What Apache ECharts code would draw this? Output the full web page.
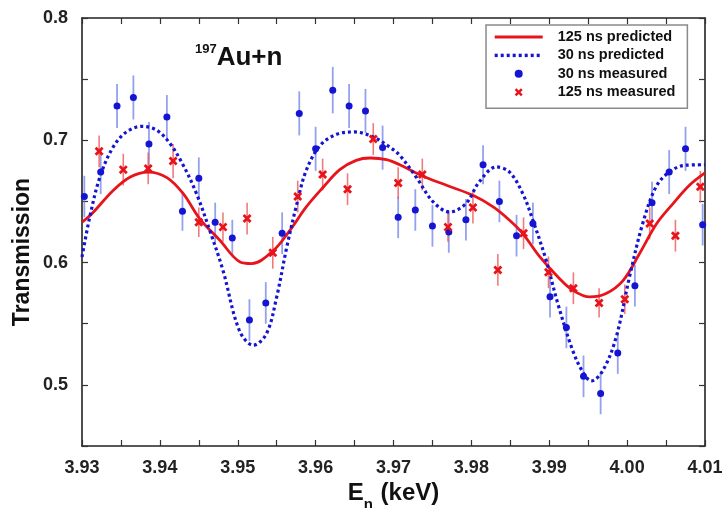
<!DOCTYPE html>
<html>
<head>
<meta charset="utf-8">
<script src="https://cdn.jsdelivr.net/npm/echarts@6/dist/echarts.min.js"></script>
<style>
  html, body { margin: 0; padding: 0; background: #fff; }
  #chart { width: 722px; height: 508px; }
</style>
</head>
<body>
<div id="chart"></div>
<script>
// Neutron transmission of 197Au near 3.93-4.01 keV

// Predicted transmission, 125 ns resolution: [E (keV), T]
const pred125 = [
  [3.9300, 0.633], [3.9312, 0.6395], [3.9340, 0.659], [3.9362, 0.670], [3.9385, 0.674],
  [3.9409, 0.6695], [3.9430, 0.6564], [3.9451, 0.636], [3.9477, 0.6182], [3.9503, 0.6005],
  [3.9518, 0.5992], [3.9546, 0.610], [3.9567, 0.6264], [3.9588, 0.6455], [3.9610, 0.6618],
  [3.9631, 0.676], [3.9652, 0.6836], [3.9670, 0.6855], [3.9691, 0.6842], [3.9708, 0.680],
  [3.9738, 0.6706], [3.9768, 0.6632], [3.9802, 0.655], [3.9828, 0.6455], [3.9849, 0.6346],
  [3.9866, 0.6237], [3.9888, 0.6046], [3.9913, 0.587], [3.9930, 0.5774], [3.9952, 0.5719],
  [3.9973, 0.5747], [3.9995, 0.5855], [4.0016, 0.6074], [4.0038, 0.6319], [4.0059, 0.6482],
  [4.0080, 0.6632], [4.0100, 0.6733]
];

// Predicted transmission, 30 ns resolution
const pred30 = [
  [3.9300, 0.6046], [3.9310, 0.6373], [3.9323, 0.670], [3.9340, 0.6945], [3.9357, 0.7068],
  [3.9377, 0.7114], [3.9396, 0.7082], [3.9413, 0.6973], [3.9430, 0.6796], [3.9447, 0.6564],
  [3.9464, 0.6264], [3.9481, 0.5937], [3.9502, 0.5446], [3.9520, 0.5324], [3.9537, 0.542],
  [3.9550, 0.5719], [3.9563, 0.6128], [3.9576, 0.6482], [3.9588, 0.6755], [3.9606, 0.6959],
  [3.9627, 0.7049], [3.9650, 0.7068], [3.9674, 0.7027], [3.9695, 0.6945], [3.9708, 0.6877],
  [3.9729, 0.670], [3.9751, 0.6496], [3.9772, 0.6414], [3.9793, 0.6482], [3.9810, 0.6659],
  [3.9832, 0.6782], [3.9849, 0.674], [3.9866, 0.6564], [3.9879, 0.6346], [3.9896, 0.6019],
  [3.9911, 0.5665], [3.9930, 0.5283], [3.9943, 0.5106], [3.9954, 0.5032], [3.9969, 0.5119],
  [3.9986, 0.5392], [4.0003, 0.5882], [4.0020, 0.6319], [4.0037, 0.6618], [4.0054, 0.674],
  [4.0075, 0.6796], [4.0100, 0.680]
];

// Measured, 30 ns: energy, transmission, 1-sigma uncertainty
const meas30E = [
  3.9303, 3.9324, 3.9345, 3.9366, 3.9386, 3.9409, 3.9429, 3.9450, 3.9471, 3.9493,
  3.9515, 3.9536, 3.9557, 3.9579, 3.9600, 3.9622, 3.9643, 3.9664, 3.9686, 3.9706,
  3.9728, 3.9750, 3.9771, 3.9793, 3.9815, 3.9836, 3.9858, 3.9879, 3.9901, 3.9922,
  3.9944, 3.9966, 3.9988, 4.0010, 4.0032, 4.0054, 4.0075, 4.0097
];
const meas30T = [
  0.654, 0.674, 0.728, 0.735, 0.697, 0.719, 0.642, 0.669, 0.633, 0.620,
  0.553, 0.567, 0.624, 0.722, 0.693, 0.741, 0.728, 0.724, 0.694, 0.637,
  0.643, 0.630, 0.625, 0.635, 0.680, 0.650, 0.622, 0.632, 0.572, 0.547,
  0.507, 0.493, 0.526, 0.581, 0.649, 0.674, 0.693, 0.631
];
const meas30Err = [
  0.017, 0.018, 0.018, 0.018, 0.018, 0.018, 0.016, 0.017, 0.016, 0.015,
  0.017, 0.017, 0.017, 0.018, 0.018, 0.019, 0.018, 0.018, 0.018, 0.017,
  0.017, 0.017, 0.017, 0.017, 0.016, 0.017, 0.017, 0.017, 0.017, 0.017,
  0.017, 0.017, 0.017, 0.017, 0.017, 0.018, 0.018, 0.017
];

// Measured, 125 ns
const meas125E = [
  3.9322, 3.9353, 3.9385, 3.9417, 3.9450, 3.9481, 3.9512, 3.9545, 3.9577, 3.9609,
  3.9641, 3.9674, 3.9706, 3.9737, 3.9770, 3.9802, 3.9834, 3.9867, 3.9899, 3.9931,
  3.9964, 3.9997, 4.0029, 4.0062, 4.0094
];
const meas125T = [
  0.691, 0.676, 0.677, 0.683, 0.633, 0.629, 0.636, 0.608, 0.654, 0.672,
  0.660, 0.701, 0.665, 0.672, 0.629, 0.645, 0.594, 0.624, 0.592, 0.579,
  0.567, 0.570, 0.632, 0.622, 0.662
];
const meas125Err = [
  0.013, 0.013, 0.013, 0.014, 0.012, 0.012, 0.013, 0.013, 0.013, 0.013,
  0.013, 0.013, 0.013, 0.013, 0.012, 0.013, 0.013, 0.013, 0.013, 0.013,
  0.012, 0.012, 0.013, 0.013, 0.013
];

// Axis ranges and tick spacing
const xRange = [3.93, 4.01];
const yRange = [0.45, 0.8];
const xTickStep = 0.005;
const yTickStep = 0.05;

const FONT = "'Liberation Sans', Arial, Helvetica, sans-serif";
const RED = '#e8141c';
const BLUE = '#1414d2';
const RED_BAR = 'rgba(236, 90, 90, 0.8)';
const BLUE_BAR = 'rgba(90, 110, 228, 0.65)';
const CROSS = 'path://M2.2,0 L5,2.8 L7.8,0 L10,2.2 L7.2,5 L10,7.8 L7.8,10 L5,7.2 L2.2,10 L0,7.8 L2.8,5 L0,2.2 Z';
const HIDDEN = { color: 'rgba(0,0,0,0)', opacity: 0 };

const zip3 = (a, b, c) => a.map((v, i) => [v, b[i], c[i]]);
const points30 = zip3(meas30E, meas30T, meas30Err);
const points125 = zip3(meas125E, meas125T, meas125Err);

function errorBars(color, width) {
  return function (params, api) {
    const x = api.value(0), y = api.value(1), e = api.value(2);
    const hi = api.coord([x, y + e]);
    const lo = api.coord([x, y - e]);
    return {
      type: 'line',
      shape: { x1: hi[0], y1: hi[1], x2: lo[0], y2: lo[1] },
      style: { stroke: color, lineWidth: width }
    };
  };
}

const onStep = (v, step) => Math.abs(v / step - Math.round(v / step)) < 1e-6;

const axisLine = { show: true, lineStyle: { color: '#222', width: 1.6 } };
const tickIn = { show: true, inside: true, length: 6, lineStyle: { color: '#333', width: 1.2 } };

const chart = echarts.init(document.getElementById('chart'), null, { renderer: 'canvas' });

chart.setOption({
  backgroundColor: '#ffffff',
  animation: false,
  textStyle: { fontFamily: FONT },
  title: {
    text: '{sup|197}{main|Au+n}',
    left: 190,
    top: 38,
    textStyle: {
      rich: {
        sup: { fontSize: 13, fontWeight: 'bold', color: '#111', lineHeight: 12, verticalAlign: 'top', fontFamily: FONT },
        main: { fontSize: 26, fontWeight: 'bold', color: '#111', lineHeight: 29, fontFamily: FONT }
      }
    }
  },
  legend: {
    orient: 'vertical',
    left: 486,
    top: 25,
    padding: [4, 12, 8, 7],
    itemWidth: 48,
    itemHeight: 8,
    itemGap: 2.4,
    backgroundColor: '#ffffff',
    borderColor: '#8a8a8a',
    borderWidth: 1.5,
    borderRadius: 0,
    selectedMode: false,
    data: [
      { name: '125 ns predicted', itemStyle: HIDDEN, lineStyle: { width: 3.2 } },
      { name: '30 ns predicted', itemStyle: HIDDEN, lineStyle: { width: 3.4 } },
      { name: '30 ns measured' },
      { name: '125 ns measured' }
    ],
    textStyle: {
      fontFamily: FONT, fontSize: 14.5, fontWeight: 'bold', color: '#111',
      lineHeight: 16, padding: [0, 0, 0, 10]
    }
  },
  grid: { left: 82, right: 17, top: 18, bottom: 62, outerBoundsMode: 'none' },
  xAxis: [
    {
      type: 'value',
      min: xRange[0], max: xRange[1], interval: xTickStep,
      position: 'bottom',
      axisLine, axisTick: tickIn,
      splitLine: { show: false },
      axisLabel: {
        margin: 13, fontSize: 18, fontWeight: 'bold', color: '#222', fontFamily: FONT,
        formatter: v => (onStep(v, 0.01) ? v.toFixed(2) : '')
      },
      name: '{e|E}{n|n}{k| (keV)}',
      nameLocation: 'middle',
      nameGap: 35,
      nameMoveOverlap: false,
      nameTextStyle: {
        verticalAlign: 'top',
        rich: {
          e: { fontSize: 24, fontWeight: 'bold', color: '#111', lineHeight: 24, verticalAlign: 'top', fontFamily: FONT },
          n: { fontSize: 15, fontWeight: 'bold', color: '#111', lineHeight: 31, verticalAlign: 'bottom', padding: [0, 1, 0, 0], fontFamily: FONT },
          k: { fontSize: 24, fontWeight: 'bold', color: '#111', lineHeight: 24, verticalAlign: 'top', fontFamily: FONT }
        }
      }
    },
    {
      type: 'value',
      min: xRange[0], max: xRange[1], interval: xTickStep,
      position: 'top',
      axisLine, axisTick: tickIn,
      axisLabel: { show: false },
      splitLine: { show: false }
    }
  ],
  yAxis: [
    {
      type: 'value',
      min: yRange[0], max: yRange[1], interval: yTickStep,
      position: 'left',
      axisLine, axisTick: tickIn,
      splitLine: { show: false },
      axisLabel: {
        margin: 14, fontSize: 18, fontWeight: 'bold', color: '#222', fontFamily: FONT,
        formatter: v => (onStep(v, 0.1) ? v.toFixed(1) : '')
      },
      name: 'Transmission',
      nameLocation: 'middle',
      nameGap: 48,
      nameMoveOverlap: false,
      nameTextStyle: {
        fontSize: 23, fontWeight: 'bold', color: '#111', fontFamily: FONT,
        padding: [0, 40, 0, 0]
      }
    },
    {
      type: 'value',
      min: yRange[0], max: yRange[1], interval: yTickStep,
      position: 'right',
      axisLine, axisTick: tickIn,
      axisLabel: { show: false },
      splitLine: { show: false }
    }
  ],
  series: [
    {
      name: '30 ns error',
      type: 'custom',
      xAxisIndex: 0, yAxisIndex: 0,
      data: points30,
      encode: { x: 0, y: 1 },
      renderItem: errorBars(BLUE_BAR, 1.8),
      z: 1
    },
    {
      name: '125 ns error',
      type: 'custom',
      xAxisIndex: 0, yAxisIndex: 0,
      data: points125,
      encode: { x: 0, y: 1 },
      renderItem: errorBars(RED_BAR, 1.6),
      z: 1
    },
    {
      name: '125 ns predicted',
      type: 'line',
      data: pred125,
      smooth: 0.35,
      symbol: 'none',
      lineStyle: { color: RED, width: 2.8 },
      itemStyle: { color: RED },
      z: 3
    },
    {
      name: '30 ns predicted',
      type: 'line',
      data: pred30,
      smooth: 0.35,
      symbol: 'none',
      lineStyle: { color: BLUE, width: 3.2, type: [3, 3], cap: 'butt' },
      itemStyle: { color: BLUE },
      z: 3
    },
    {
      name: '30 ns measured',
      type: 'scatter',
      data: points30,
      encode: { x: 0, y: 1 },
      symbol: 'circle',
      symbolSize: 7,
      itemStyle: { color: BLUE, opacity: 1 },
      z: 4
    },
    {
      name: '125 ns measured',
      type: 'scatter',
      data: points125,
      encode: { x: 0, y: 1 },
      symbol: CROSS,
      symbolSize: 9,
      itemStyle: { color: RED, opacity: 1 },
      z: 4
    }
  ]
});
</script>
</body>
</html>
